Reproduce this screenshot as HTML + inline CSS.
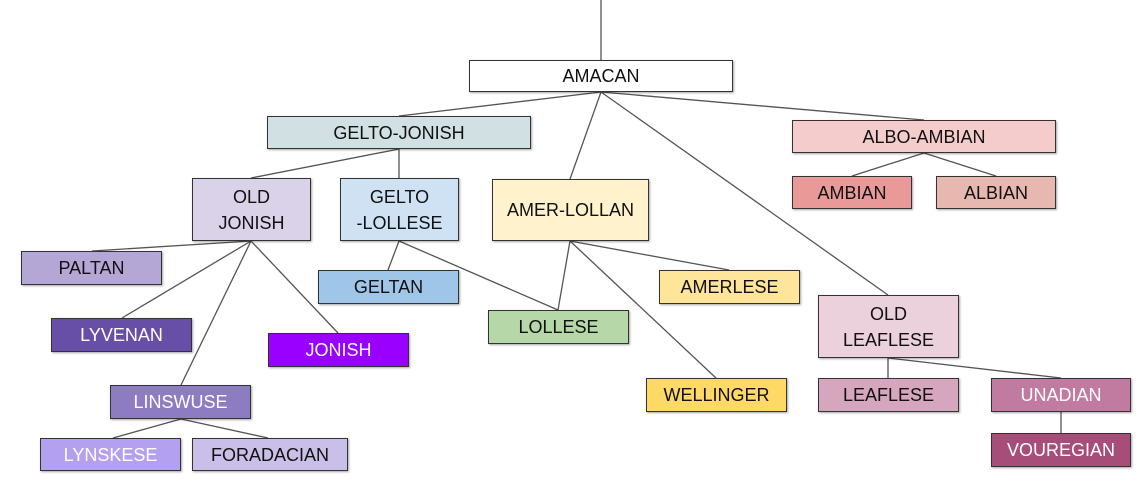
<!DOCTYPE html>
<html><head><style>
body{margin:0;width:1147px;height:489px;background:#fff;position:relative;overflow:hidden;font-family:"Liberation Sans",Arial,sans-serif}
svg{position:absolute;left:0;top:0}
.b{position:absolute;box-sizing:border-box;border:1.5px solid #333;display:flex;align-items:center;justify-content:center;text-align:center;font-size:18px;line-height:26px;color:#111;box-shadow:1px 1px 2px rgba(0,0,0,.35)}
.w{color:#fff}
</style></head><body>
<svg width="1147" height="489" stroke="#555" stroke-width="1.3">
<line x1="601" y1="0" x2="601" y2="60"/>
<line x1="601" y1="92" x2="399" y2="116"/>
<line x1="601" y1="92" x2="924" y2="120"/>
<line x1="601" y1="92" x2="570" y2="179"/>
<line x1="601" y1="92" x2="888" y2="295"/>
<line x1="399" y1="149" x2="251" y2="178"/>
<line x1="399" y1="149" x2="399" y2="178"/>
<line x1="924" y1="153" x2="852" y2="176"/>
<line x1="924" y1="153" x2="996" y2="176"/>
<line x1="251" y1="241" x2="92" y2="251"/>
<line x1="251" y1="241" x2="122" y2="318"/>
<line x1="251" y1="241" x2="338" y2="333"/>
<line x1="251" y1="241" x2="181" y2="385"/>
<line x1="181" y1="419" x2="113" y2="438"/>
<line x1="181" y1="419" x2="268" y2="438"/>
<line x1="399" y1="241" x2="388" y2="270"/>
<line x1="399" y1="241" x2="558" y2="310"/>
<line x1="570" y1="241" x2="558" y2="310"/>
<line x1="570" y1="241" x2="729" y2="270"/>
<line x1="570" y1="241" x2="716" y2="378"/>
<line x1="888" y1="358" x2="888" y2="378"/>
<line x1="888" y1="358" x2="1061" y2="378"/>
<line x1="1061" y1="412" x2="1061" y2="433"/>
</svg>
<div class="b" style="left:469px;top:60px;width:264px;height:32px;background:#fff">AMACAN</div>
<div class="b" style="left:267px;top:116px;width:264px;height:33px;background:#d0e0e3">GELTO-JONISH</div>
<div class="b" style="left:792px;top:120px;width:264px;height:33px;background:#f4cccc">ALBO-AMBIAN</div>
<div class="b" style="left:792px;top:176px;width:120px;height:33px;background:#ea9999">AMBIAN</div>
<div class="b" style="left:936px;top:176px;width:120px;height:33px;background:#e6b8af">ALBIAN</div>
<div class="b" style="left:192px;top:178px;width:119px;height:63px;background:#d9d2e9">OLD<br>JONISH</div>
<div class="b" style="left:340px;top:178px;width:119px;height:63px;background:#cfe2f3">GELTO<br>-LOLLESE</div>
<div class="b" style="left:492px;top:179px;width:157px;height:62px;background:#fff2cc">AMER-LOLLAN</div>
<div class="b" style="left:21px;top:251px;width:141px;height:34px;background:#b4a7d6">PALTAN</div>
<div class="b w" style="left:51px;top:318px;width:141px;height:34px;background:#674ea7">LYVENAN</div>
<div class="b w" style="left:268px;top:333px;width:141px;height:34px;background:#9900ff">JONISH</div>
<div class="b w" style="left:110px;top:385px;width:141px;height:34px;background:#8e7cc3">LINSWUSE</div>
<div class="b w" style="left:40px;top:438px;width:141px;height:33px;background:#b4a0f0">LYNSKESE</div>
<div class="b" style="left:192px;top:438px;width:156px;height:33px;background:#c9bfe8">FORADACIAN</div>
<div class="b" style="left:318px;top:270px;width:141px;height:34px;background:#9fc5e8">GELTAN</div>
<div class="b" style="left:488px;top:310px;width:141px;height:34px;background:#b6d7a8">LOLLESE</div>
<div class="b" style="left:659px;top:270px;width:141px;height:34px;background:#ffe599">AMERLESE</div>
<div class="b" style="left:646px;top:378px;width:141px;height:34px;background:#ffd966">WELLINGER</div>
<div class="b" style="left:818px;top:295px;width:141px;height:63px;background:#ead1dc">OLD<br>LEAFLESE</div>
<div class="b" style="left:818px;top:378px;width:141px;height:34px;background:#d5a6bd">LEAFLESE</div>
<div class="b w" style="left:991px;top:378px;width:140px;height:34px;background:#c27ba0">UNADIAN</div>
<div class="b w" style="left:991px;top:433px;width:140px;height:34px;background:#a64d79">VOUREGIAN</div>
</body></html>
